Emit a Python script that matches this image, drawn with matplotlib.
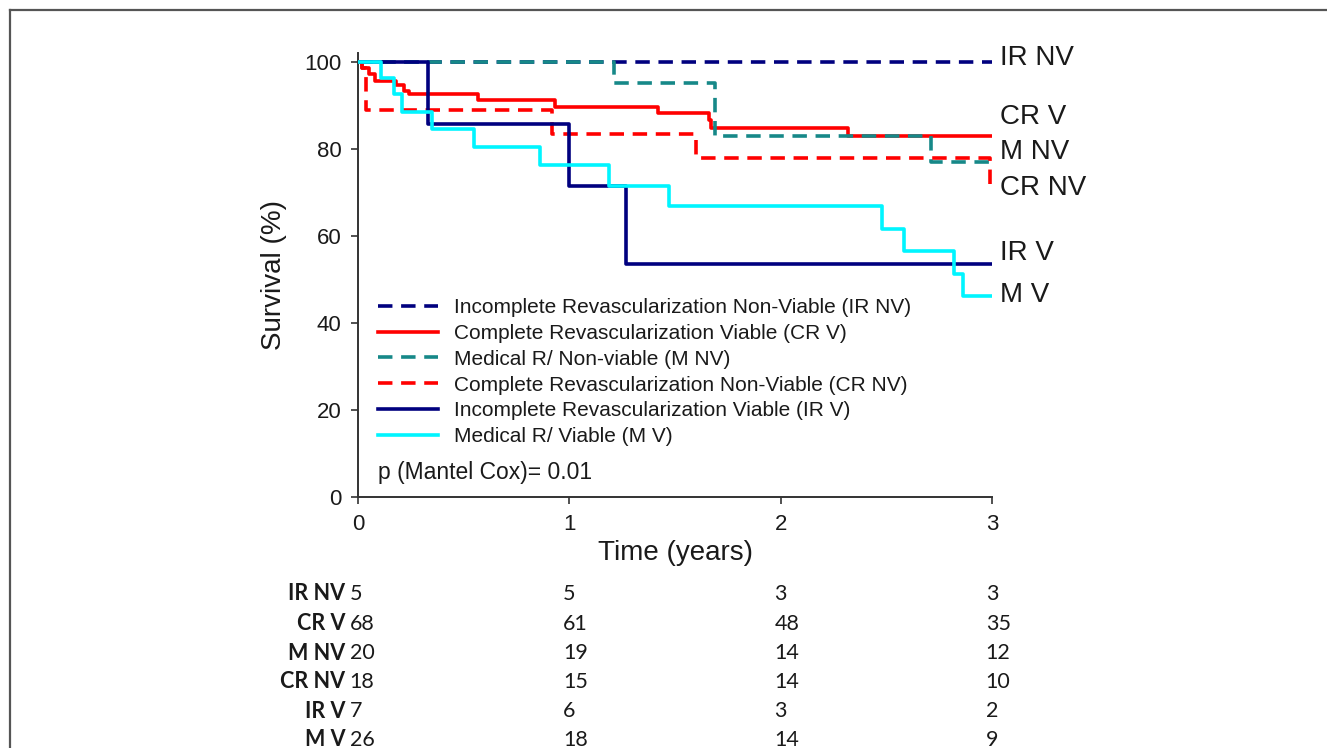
import matplotlib
matplotlib.use("Agg")
import matplotlib.pyplot as plt
from matplotlib.lines import Line2D
import matplotlib.transforms as mtransforms

# ---------------- data ----------------
ir_nv_t = [0, 3.0]
ir_nv_s = [100, 100]

cr_v_t = [0, 0.02, 0.05, 0.08, 0.18, 0.22, 0.24, 0.57, 0.93, 1.42, 1.66, 1.67, 2.32, 3.0]
cr_v_s = [100, 98.5, 97.1, 95.6, 94.6, 93.3, 92.6, 91.2, 89.7, 88.2, 86.7, 84.8, 83.0, 83.0]

m_nv_t = [0, 1.21, 1.69, 2.71, 3.0]
m_nv_s = [100, 95.0, 83.0, 76.9, 76.9]

cr_nv_t = [0, 0.02, 0.04, 0.92, 1.6, 2.99, 3.0]
cr_nv_s = [100, 98.5, 88.9, 83.3, 77.8, 70.8, 70.8]

ir_v_t = [0, 0.33, 1.0, 1.27, 3.0]
ir_v_s = [100, 85.7, 71.4, 53.6, 53.6]

m_v_t = [0, 0.11, 0.17, 0.21, 0.35, 0.55, 0.86, 1.19, 1.47, 2.48, 2.585, 2.82, 2.865, 3.0]
m_v_s = [100, 96.2, 92.6, 88.5, 84.6, 80.5, 76.3, 71.5, 66.8, 61.6, 56.5, 51.3, 46.2, 46.2]

legend_labels = [
    "Incomplete Revascularization Non-Viable (IR NV)",
    "Complete Revascularization Viable (CR V)",
    "Medical R/ Non-viable (M NV)",
    "Complete Revascularization Non-Viable (CR NV)",
    "Incomplete Revascularization Viable (IR V)",
    "Medical R/ Viable (M V)",
]
short_labels = ["IR NV", "CR V", "M NV", "CR NV", "IR V", "M V"]
short_label_y = [100.8, 87.3, 79.3, 71.0, 56.1, 46.4]   # label placement

risk_times = [0, 1, 2, 3]
risk_ir_nv = [5, 5, 3, 3]
risk_cr_v = [68, 61, 48, 35]
risk_m_nv = [20, 19, 14, 12]
risk_cr_nv = [18, 15, 14, 10]
risk_ir_v = [7, 6, 3, 2]
risk_m_v = [26, 18, 14, 9]

p_text = "p (Mantel Cox)= 0.01"

# ---------------- styles ----------------
navy = "#00007F"
red = "#FF0000"
teal = "#168888"
cyan = "#00F5FF"
dash = (0, (4.0, 2.4))
txt = "#1a1a1a"

series = [
    (ir_nv_t, ir_nv_s, navy, dash),
    (cr_v_t, cr_v_s, red, "-"),
    (m_nv_t, m_nv_s, teal, dash),
    (cr_nv_t, cr_nv_s, red, dash),
    (ir_v_t, ir_v_s, navy, "-"),
    (m_v_t, m_v_s, cyan, "-"),
]

plt.rcParams["font.family"] = ["Liberation Sans", "DejaVu Sans"]
plt.rcParams["text.color"] = txt

W, H = 1327, 748
fig = plt.figure(figsize=(W / 100, H / 100), dpi=100)
ax = fig.add_axes([358 / W, 1 - 497 / H, (992 - 358) / W, (497 - 53) / H])

lw = 2.6
handles = []
draw_order = [5, 4, 3, 1, 2, 0]
for i in draw_order:
    t, s, c, ls = series[i]
    ax.step(t, s, where="post", color=c, linestyle=ls, linewidth=lw, zorder=3 + i * 0.1)
for i in range(6):
    t, s, c, ls = series[i]
    handles.append(Line2D([0], [0], color=c, linestyle=ls, linewidth=lw))

ax.set_xlim(0, 3)
ax.set_ylim(0, 102)
ax.set_xticks([0, 1, 2, 3])
ax.set_yticks([0, 20, 40, 60, 80, 100])
for sp in ["top", "right"]:
    ax.spines[sp].set_visible(False)
for sp in ["left", "bottom"]:
    ax.spines[sp].set_color("#333333")
    ax.spines[sp].set_linewidth(1.4)
ax.tick_params(direction="out", length=5, width=1.2, color="#333333",
               labelsize=16, pad=7, labelcolor=txt)
ax.set_xlabel("Time (years)", fontsize=20, labelpad=4, color=txt)
ax.set_ylabel("Survival (%)", fontsize=20, labelpad=12, color=txt)

leg = ax.legend(handles, legend_labels, loc="upper left",
                bbox_to_anchor=(20 / 634, (497 - 298) / 444),
                frameon=False, fontsize=15, handlelength=2.9,
                handletextpad=0.75, labelspacing=0.33, borderpad=0,
                borderaxespad=0)
for tx in leg.get_texts():
    tx.set_color(txt)

ax.text(20 / 634, (497 - 473) / 444, p_text, transform=ax.transAxes,
        fontsize=16.5, ha="left", va="center", color=txt)

for lab, yv in zip(short_labels, short_label_y):
    ax.annotate(lab, xy=(3, yv), xytext=(6, 0), textcoords="offset points",
                fontsize=20, ha="left", va="center", annotation_clip=False,
                color=txt)

# number at risk table
risk_rows = [risk_ir_nv, risk_cr_v, risk_m_nv, risk_cr_nv, risk_ir_v, risk_m_v]
row_py = [594, 624, 653, 682, 711, 740]
tfont = ["Lato", "DejaVu Sans"]
trans = mtransforms.blended_transform_factory(ax.transData, fig.transFigure)
for lab, vals, py in zip(short_labels, risk_rows, row_py):
    yf = 1 - py / H
    ax.annotate(lab, xy=(0, yf), xycoords=trans, xytext=(-9, 0),
                textcoords="offset points", ha="right", va="center",
                fontsize=15.5, fontweight="bold", family=tfont,
                annotation_clip=False, color=txt)
    for tx, v in zip(risk_times, vals):
        ax.annotate(str(v), xy=(tx, yf), xycoords=trans,
                    xytext=(-6 if tx == 0 else -4.5, 0),
                    textcoords="offset points", ha="left", va="center",
                    fontsize=15.5, family=tfont, annotation_clip=False,
                    color=txt)

# outer frame lines
fig.add_artist(Line2D([10 / W, 1], [1 - 9.5 / H, 1 - 9.5 / H],
                      transform=fig.transFigure, color="#555555", linewidth=1.6))
fig.add_artist(Line2D([10 / W, 10 / W], [0, 1 - 9.5 / H],
                      transform=fig.transFigure, color="#555555", linewidth=1.6))

fig.savefig("out.png", dpi=100)
